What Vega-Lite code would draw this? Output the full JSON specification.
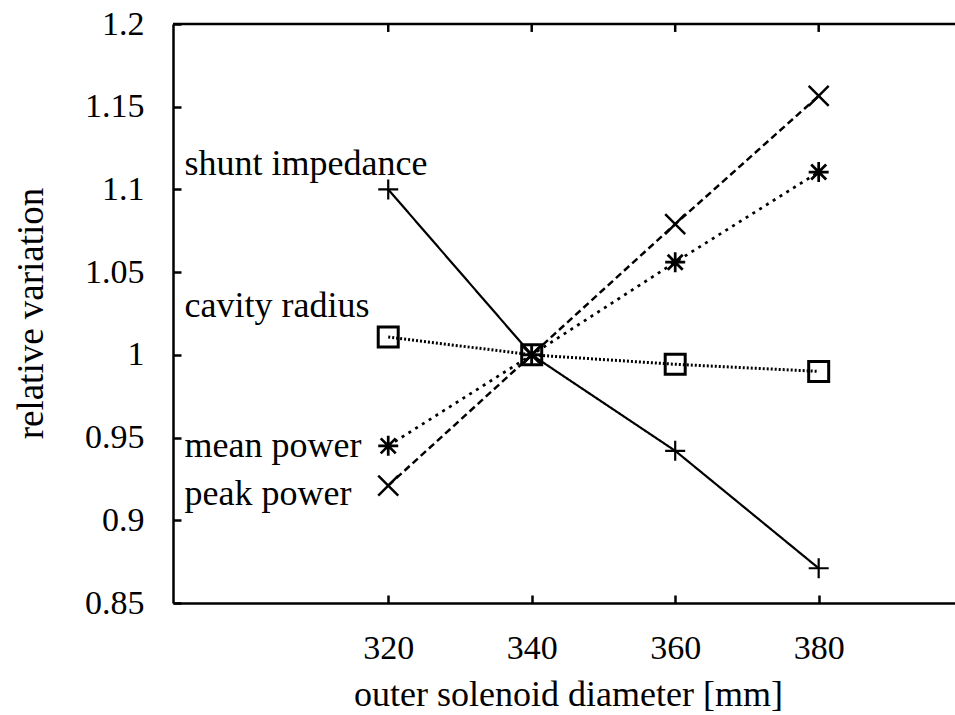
{
  "$schema": "https://vega.github.io/schema/vega-lite/v6.json",
  "width": 782,
  "height": 579,
  "autosize": {"type": "none"},
  "padding": {"left": 173, "top": 24, "right": 0, "bottom": 112},
  "background": "white",
  "config": {
    "view": {"stroke": null},
    "font": "Liberation Serif",
    "axis": {
      "domainColor": "black",
      "domainWidth": 2.5,
      "tickColor": "black",
      "tickWidth": 2.5,
      "grid": false,
      "labelFont": "Liberation Serif",
      "labelFontSize": 34,
      "labelColor": "black",
      "titleFont": "Liberation Serif",
      "titleFontSize": 36,
      "titleFontWeight": "normal",
      "titleColor": "black"
    }
  },
  "datasets": {
    "series": [
      {"d": 320, "v": 1.1, "s": "shunt impedance"},
      {"d": 340, "v": 1.0, "s": "shunt impedance"},
      {"d": 360, "v": 0.942, "s": "shunt impedance"},
      {"d": 380, "v": 0.871, "s": "shunt impedance"},
      {"d": 320, "v": 0.921, "s": "peak power"},
      {"d": 340, "v": 1.0, "s": "peak power"},
      {"d": 360, "v": 1.079, "s": "peak power"},
      {"d": 380, "v": 1.1565, "s": "peak power"},
      {"d": 320, "v": 0.945, "s": "mean power"},
      {"d": 340, "v": 1.0, "s": "mean power"},
      {"d": 360, "v": 1.056, "s": "mean power"},
      {"d": 380, "v": 1.1105, "s": "mean power"},
      {"d": 320, "v": 1.0108, "s": "cavity radius"},
      {"d": 340, "v": 1.0, "s": "cavity radius"},
      {"d": 360, "v": 0.9943, "s": "cavity radius"},
      {"d": 380, "v": 0.990, "s": "cavity radius"}
    ],
    "labels": [
      {"d": 291.6, "v": 1.1087, "t": "shunt impedance"},
      {"d": 291.6, "v": 1.023, "t": "cavity radius"},
      {"d": 291.6, "v": 0.9384, "t": "mean power"},
      {"d": 291.6, "v": 0.9092, "t": "peak power"}
    ],
    "topticks": [{"d": 320}, {"d": 340}, {"d": 360}, {"d": 380}]
  },
  "layer": [
    {
      "data": {"name": "series"},
      "mark": {"type": "line", "color": "black"},
      "encoding": {
        "x": {
          "field": "d",
          "type": "quantitative",
          "scale": {"domain": [290, 399], "nice": false, "zero": false},
          "axis": {
            "title": "outer solenoid diameter [mm]",
            "values": [320, 340, 360, 380],
            "tickSize": -8,
            "labelPadding": 36,
            "titleX": 395,
            "titleY": 91,
            "titleAlign": "center",
            "titleBaseline": "middle"
          }
        },
        "y": {
          "field": "v",
          "type": "quantitative",
          "scale": {"domain": [0.85, 1.2], "nice": false, "zero": false},
          "axis": {
            "title": "relative variation",
            "titleFontSize": 37,
            "values": [0.85, 0.9, 0.95, 1.0, 1.05, 1.1, 1.15, 1.2],
            "format": ".3~g",
            "tickSize": -8,
            "labelPadding": 37,
            "titleX": -142,
            "titleY": 289,
            "titleAngle": -90,
            "titleAlign": "center",
            "titleBaseline": "middle"
          }
        },
        "detail": {"field": "s"},
        "strokeDash": {
          "field": "s",
          "type": "nominal",
          "scale": {
            "domain": ["shunt impedance", "peak power", "mean power", "cavity radius"],
            "range": [[1, 0], [7, 4], [3, 5], [2, 2]]
          },
          "legend": null
        },
        "strokeWidth": {
          "field": "s",
          "type": "nominal",
          "scale": {
            "domain": ["shunt impedance", "peak power", "mean power", "cavity radius"],
            "range": [2.2, 3, 3.5, 2.5]
          },
          "legend": null
        }
      }
    },
    {
      "data": {"name": "series"},
      "mark": {"type": "point", "color": "black", "filled": false, "opacity": 1, "size": 400},
      "encoding": {
        "x": {"field": "d", "type": "quantitative", "axis": null},
        "y": {"field": "v", "type": "quantitative"},
        "shape": {
          "field": "s",
          "type": "nominal",
          "scale": {
            "domain": ["shunt impedance", "peak power", "mean power", "cavity radius"],
            "range": [
              "M-1,0L1,0M0,-1L0,1",
              "M-1,-1L1,1M-1,1L1,-1",
              "M-1,0L1,0M0,-1L0,1M-0.75,-0.75L0.75,0.75M-0.75,0.75L0.75,-0.75",
              "M-1,-1L1,-1L1,1L-1,1Z"
            ]
          },
          "legend": null
        },
        "strokeWidth": {
          "field": "s",
          "type": "nominal",
          "scale": {
            "domain": ["shunt impedance", "peak power", "mean power", "cavity radius"],
            "range": [2.5, 2.5, 3.2, 3.2]
          },
          "legend": null
        }
      }
    },
    {
      "data": {"name": "labels"},
      "mark": {"type": "text", "align": "left", "baseline": "alphabetic", "font": "Liberation Serif", "fontSize": 36, "color": "black"},
      "encoding": {
        "x": {"field": "d", "type": "quantitative", "axis": null},
        "y": {"field": "v", "type": "quantitative"},
        "text": {"field": "t"}
      }
    },
    {
      "data": {"values": [{"xa": 290, "xb": 399, "ya": 1.20076, "yb": 1.19924}]},
      "mark": {"type": "rect", "color": "black", "clip": false},
      "encoding": {
        "x": {"field": "xa", "type": "quantitative", "axis": null},
        "x2": {"field": "xb"},
        "y": {"field": "ya", "type": "quantitative"},
        "y2": {"field": "yb"}
      }
    },
    {
      "data": {"name": "topticks"},
      "mark": {"type": "rule", "color": "black", "strokeWidth": 2.5},
      "encoding": {
        "x": {"field": "d", "type": "quantitative", "axis": null},
        "y": {"datum": 1.2, "type": "quantitative"},
        "y2": {"datum": 1.1952}
      }
    }
  ],
  "resolve": {"axis": {"x": "independent"}}
}
